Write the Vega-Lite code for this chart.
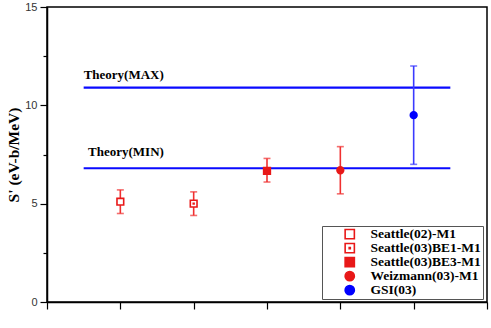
{
  "$schema": "https://vega.github.io/schema/vega-lite/v6.json",
  "width": 440,
  "height": 295,
  "autosize": "none",
  "padding": {"left": 47, "top": 7, "right": 4, "bottom": 26},
  "background": "white",
  "config": {
    "view": {"stroke": "black", "strokeWidth": 1.5},
    "axis": {"grid": false, "domainColor": "black", "domainWidth": 1.5, "tickColor": "black", "tickWidth": 1.2}
  },
  "datasets": {
    "pts": [
      {"series": "Seattle(02)-M1", "pos": 2, "val": 5.1, "lo": 4.5, "hi": 5.7},
      {"series": "Seattle(03)BE1-M1", "pos": 4, "val": 5.0, "lo": 4.4, "hi": 5.6},
      {"series": "Seattle(03)BE3-M1", "pos": 6, "val": 6.67, "lo": 6.1, "hi": 7.3},
      {"series": "Weizmann(03)-M1", "pos": 8, "val": 6.7, "lo": 5.5, "hi": 7.9},
      {"series": "GSI(03)", "pos": 10, "val": 9.5, "lo": 7.0, "hi": 12.0}
    ],
    "theory": [
      {"name": "Theory(MAX)", "x1": 1, "x2": 11, "val": 10.9, "lx": 1.0, "ly": 11.35},
      {"name": "Theory(MIN)", "x1": 1, "x2": 11, "val": 6.8, "lx": 1.12, "ly": 7.4}
    ]
  },
  "layer": [
    {
      "data": {"name": "theory"},
      "mark": {"type": "rule", "color": "#0a0aff", "strokeWidth": 2.2},
      "encoding": {
        "x": {"field": "x1", "type": "quantitative", "scale": {"domain": [0, 12], "nice": false, "zero": false},
              "axis": {"values": [0, 1, 2, 3, 4, 5, 6, 7, 8, 9, 10, 11, 12], "labels": false, "title": null,
                       "tickSize": {"condition": {"test": "datum.value % 2 === 0", "value": 7}, "value": 4}}},
        "x2": {"field": "x2"},
        "y": {"field": "val", "type": "quantitative", "scale": {"domain": [0, 15], "nice": false},
              "axis": {"values": [0, 2.5, 5, 7.5, 10, 12.5, 15],
                       "labelExpr": "datum.value % 5 === 0 ? datum.label : ''",
                       "tickSize": {"condition": {"test": "datum.value % 5 === 0", "value": 7}, "value": 4},
                       "labelFont": "Liberation Sans", "labelFontSize": 11, "labelColor": "#333", "labelPadding": 3,
                       "title": "S' (eV-b/MeV)", "titleFont": "Liberation Serif", "titleFontWeight": "bold", "titleFontSize": 15.5, "titleColor": "black", "titlePadding": 3}}
      }
    },
    {
      "data": {"name": "theory"},
      "mark": {"type": "text", "font": "Liberation Serif", "fontWeight": "bold", "fontSize": 13, "align": "left", "baseline": "alphabetic", "color": "black"},
      "encoding": {
        "x": {"field": "lx", "type": "quantitative"},
        "y": {"field": "ly", "type": "quantitative"},
        "text": {"field": "name"}
      }
    },
    {
      "data": {"name": "pts"},
      "transform": [{"filter": "datum.series !== 'GSI(03)'"}],
      "layer": [
        {"mark": {"type": "rule", "strokeWidth": 1.6, "color": "#f03030"},
         "encoding": {"x": {"field": "pos", "type": "quantitative"}, "y": {"field": "lo", "type": "quantitative"}, "y2": {"field": "hi"}}},
        {"mark": {"type": "tick", "orient": "horizontal", "size": 7, "thickness": 1.6, "color": "#f03030"},
         "encoding": {"x": {"field": "pos", "type": "quantitative"}, "y": {"field": "lo", "type": "quantitative"}}},
        {"mark": {"type": "tick", "orient": "horizontal", "size": 7, "thickness": 1.6, "color": "#f03030"},
         "encoding": {"x": {"field": "pos", "type": "quantitative"}, "y": {"field": "hi", "type": "quantitative"}}}
      ]
    },
    {
      "data": {"name": "pts"},
      "transform": [{"filter": "datum.series === 'GSI(03)'"}],
      "layer": [
        {"mark": {"type": "rule", "strokeWidth": 1.6, "color": "#3a3aff"},
         "encoding": {"x": {"field": "pos", "type": "quantitative"}, "y": {"field": "lo", "type": "quantitative"}, "y2": {"field": "hi"}}},
        {"mark": {"type": "tick", "orient": "horizontal", "size": 7, "thickness": 1.6, "color": "#3a3aff"},
         "encoding": {"x": {"field": "pos", "type": "quantitative"}, "y": {"field": "lo", "type": "quantitative"}}},
        {"mark": {"type": "tick", "orient": "horizontal", "size": 7, "thickness": 1.6, "color": "#3a3aff"},
         "encoding": {"x": {"field": "pos", "type": "quantitative"}, "y": {"field": "hi", "type": "quantitative"}}}
      ]
    },
    {
      "data": {"name": "pts"},
      "mark": {"type": "point", "size": 45, "strokeWidth": 1.6, "opacity": 1},
      "encoding": {
        "x": {"field": "pos", "type": "quantitative"},
        "y": {"field": "val", "type": "quantitative"},
        "stroke": {"field": "series", "type": "nominal",
                   "scale": {"domain": ["Seattle(02)-M1", "Seattle(03)BE1-M1", "Seattle(03)BE3-M1", "Weizmann(03)-M1", "GSI(03)"],
                             "range": ["#e81818", "#e81818", "#e81818", "#e81818", "#0000ff"]},
                   "legend": {"title": null, "orient": "none", "legendX": 275, "legendY": 219, "strokeColor": "#555", "padding": 2, "rowPadding": 0, "clipHeight": 12.3,
                              "symbolSize": 85, "symbolStrokeWidth": 1.6, "symbolOffset": 19, "labelOffset": 14,
                              "labelFont": "Liberation Serif", "labelFontWeight": "bold", "labelFontSize": 13.5, "labelColor": "black", "labelLimit": 300}},
        "fill": {"field": "series", "type": "nominal",
                 "scale": {"domain": ["Seattle(02)-M1", "Seattle(03)BE1-M1", "Seattle(03)BE3-M1", "Weizmann(03)-M1", "GSI(03)"],
                           "range": ["white", "white", "#e81818", "#e81818", "#0000ff"]},
                 "legend": {"title": null, "orient": "none", "legendX": 275, "legendY": 219, "strokeColor": "#555", "padding": 2, "rowPadding": 0, "clipHeight": 12.3,
                            "symbolSize": 85, "symbolStrokeWidth": 1.6, "symbolOffset": 19, "labelOffset": 14,
                            "labelFont": "Liberation Serif", "labelFontWeight": "bold", "labelFontSize": 13.5, "labelColor": "black", "labelLimit": 300}},
        "shape": {"field": "series", "type": "nominal",
                  "scale": {"domain": ["Seattle(02)-M1", "Seattle(03)BE1-M1", "Seattle(03)BE3-M1", "Weizmann(03)-M1", "GSI(03)"],
                            "range": ["square", "M-1,-1H1V1H-1Z M-0.12,-0.12H0.12V0.12H-0.12Z", "square", "circle", "circle"]},
                  "legend": {"title": null, "orient": "none", "legendX": 275, "legendY": 219, "strokeColor": "#555", "padding": 2, "rowPadding": 0, "clipHeight": 12.3,
                             "symbolSize": 85, "symbolStrokeWidth": 1.6, "symbolOffset": 19, "labelOffset": 14,
                             "labelFont": "Liberation Serif", "labelFontWeight": "bold", "labelFontSize": 13.5, "labelColor": "black", "labelLimit": 300}}
      }
    }
  ]
}
